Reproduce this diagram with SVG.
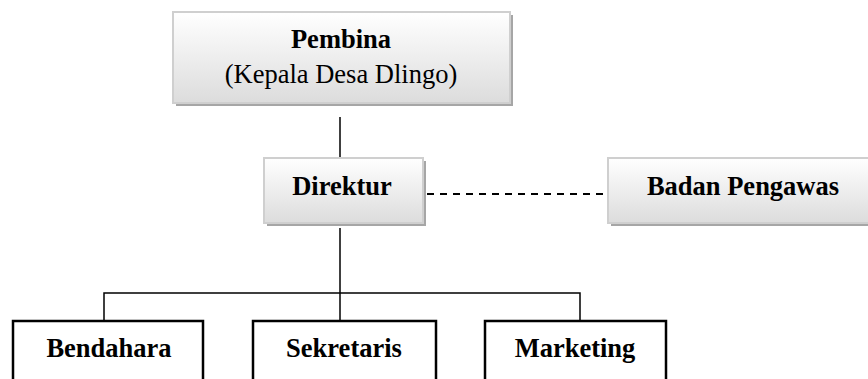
<svg xmlns="http://www.w3.org/2000/svg" width="868" height="379" viewBox="0 0 868 379">
<defs>
<linearGradient id="g" x1="0" y1="0" x2="0" y2="1">
<stop offset="0" stop-color="#ffffff"/>
<stop offset="1" stop-color="#dcdcdc"/>
</linearGradient>
<style>
.sh{fill:#a6a6a6}
.gb{fill:url(#g);stroke:#cfcfcf;stroke-width:2}
.wb{fill:#ffffff;stroke:#000;stroke-width:2.5}
.ln{stroke:#000;stroke-width:1.5;fill:none}
.ds{stroke:#000;stroke-width:1.8;fill:none;stroke-dasharray:7 6}
text{font-family:"Liberation Serif","Times New Roman",serif;fill:#000;text-anchor:middle}
.b{font-weight:bold;font-size:26.5px}
.r{font-size:26.5px}
</style>
</defs>
<rect width="868" height="379" fill="#fff"/>
<g id="connectors">
<line class="ln" x1="340" y1="117" x2="340" y2="158"/>
<line class="ds" x1="427" y1="194" x2="606" y2="194"/>
<line class="ln" x1="340" y1="228" x2="340" y2="321"/>
<polyline class="ln" points="104,321 104,293 580,293 580,321"/>
</g>
<g id="pembina">
<rect class="sh" x="176" y="15" width="337" height="91"/>
<rect class="gb" x="173" y="12" width="337" height="91"/>
<text class="b" x="341" y="48">Pembina</text>
<text class="r" x="341" y="83">(Kepala Desa Dlingo)</text>
</g>
<g id="direktur">
<rect class="sh" x="267" y="161" width="159" height="65"/>
<rect class="gb" x="264" y="158" width="159" height="65"/>
<text class="b" x="342" y="195">Direktur</text>
</g>
<g id="badan-pengawas">
<rect class="sh" x="611" y="161" width="270" height="65"/>
<rect class="gb" x="608" y="158" width="270" height="65"/>
<text class="b" x="743" y="195">Badan Pengawas</text>
</g>
<g id="bendahara">
<rect class="wb" x="13" y="321" width="190" height="80"/>
<text class="b" x="109" y="357">Bendahara</text>
</g>
<g id="sekretaris">
<rect class="wb" x="253" y="321" width="183" height="80"/>
<text class="b" x="344" y="357">Sekretaris</text>
</g>
<g id="marketing">
<rect class="wb" x="485" y="321" width="181" height="80"/>
<text class="b" x="575" y="357">Marketing</text>
</g>
</svg>
